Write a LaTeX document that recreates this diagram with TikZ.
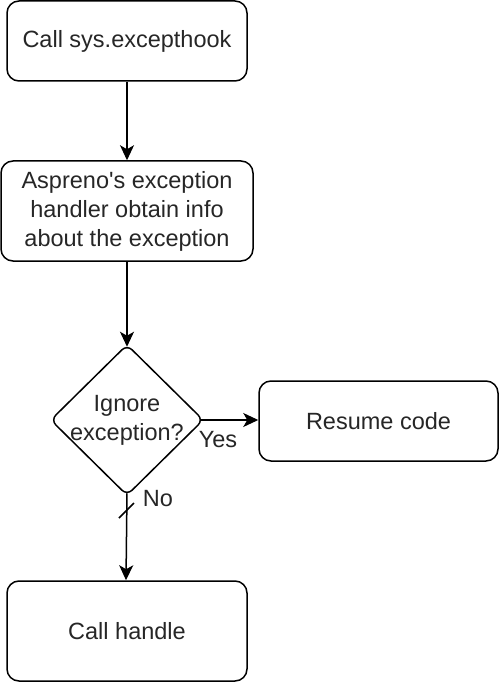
\documentclass[tikz,border=0pt]{standalone}
\usepackage{fontspec}
\setmainfont{Liberation Sans}
\usetikzlibrary{shapes.geometric,arrows.meta}
\newcommand{\straightquote}{\XeTeXglyph\XeTeXglyphindex "quotesingle"\relax}
\begin{document}
\begin{tikzpicture}[x=1pt,y=-1pt,
  box/.style={draw, line width=1.5pt, rounded corners=12pt, align=center, inner sep=0pt,
    font=\fontsize{23.5}{29}\selectfont, text=black!85},
  dec/.style={draw, diamond, line width=1.5pt, rounded corners=7pt, inner sep=0pt,
    minimum width=153pt, minimum height=151pt},
  arr/.style={line width=1.5pt, -{Stealth[length=15pt,width=14pt,inset=4pt]}},
  lbl/.style={font=\fontsize{23.5}{29}\selectfont, text=black!85, inner sep=0pt, align=center}]
\useasboundingbox (0,0) rectangle (502,684);
\node[box, minimum width=240pt, minimum height=80pt] (a) at (127,41) {Call sys.excepthook};
\node[box, minimum width=252pt, minimum height=100pt] (b) at (127,211) {Aspreno\straightquote s exception\\handler obtain info\\about the exception};
\node[dec] (c) at (127,420) {};
\node[lbl] (ct) at (c.center) {Ignore\\exception?};
\node[box, minimum width=239pt, minimum height=80pt] (r) at (378.5,421) {Resume code};
\node[box, minimum width=240pt, minimum height=100pt] (h) at (127,631) {Call handle};
\draw[arr] (a) -- (b);
\draw[arr] (b) -- ([yshift=-3pt]c.north);
\draw[arr] ([xshift=-3pt]c.east) -- (c.east -| r.west);
\draw[arr] ([yshift=3pt]c.south) -- (h.north -| 126,0);
\coordinate (s1) at (119,518);
\coordinate (s2) at (134,503);
\draw[line width=1.5pt] (s1) -- (s2);
\node[lbl] (yes) at (218,440) {Yes};
\node[lbl] (no) at (158,499) {No};
\end{tikzpicture}
\end{document}
